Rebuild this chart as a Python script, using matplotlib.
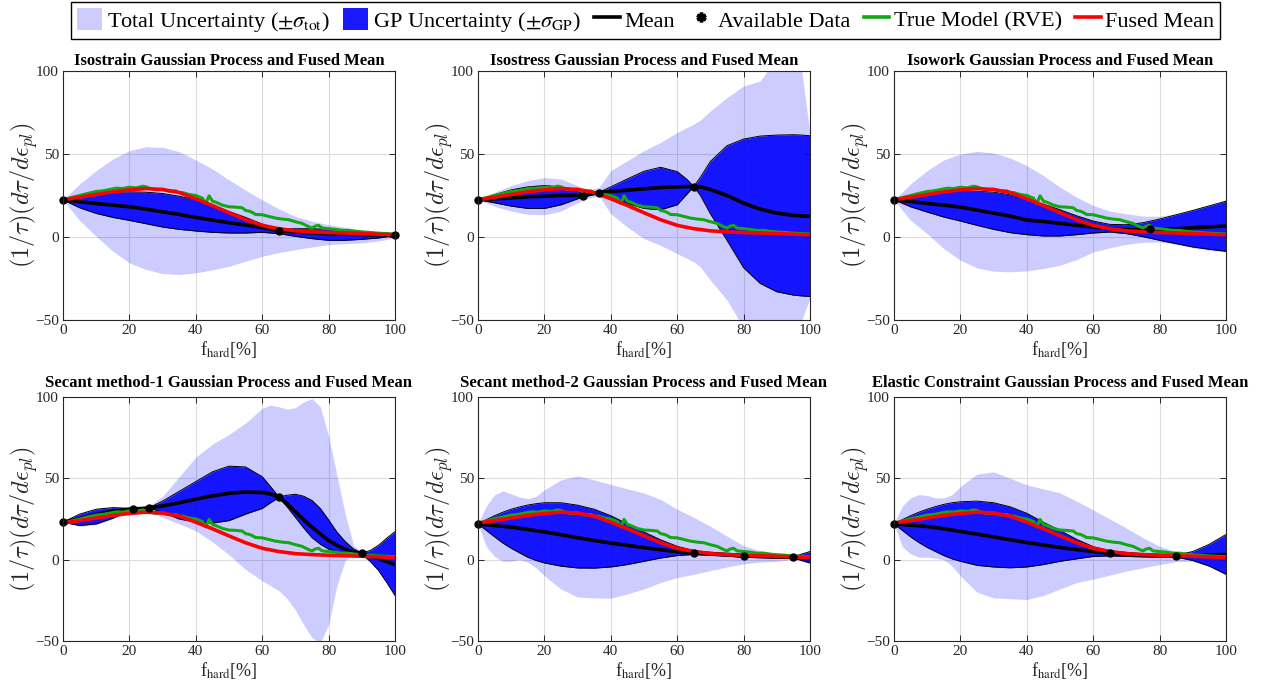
import numpy as np
import matplotlib.pyplot as plt
from matplotlib.patches import Patch
from matplotlib.lines import Line2D

plt.rcParams['font.family'] = ['Liberation Serif', 'DejaVu Serif']
plt.rcParams['mathtext.fontset'] = 'stix'

# ---- shared curves: RVE reference and fused mean ----
true_x = [0, 2, 4, 6, 8, 10, 12, 14, 16, 18, 20, 22, 24, 25, 26, 28, 30, 32, 34, 35,
          36, 38, 40, 42, 43, 44, 45, 46, 48, 50, 52, 54, 55, 56, 57, 58, 60, 62, 64, 66,
          68, 70, 72, 74, 75, 76, 77, 78, 80, 82, 84, 86, 88, 90, 92, 94, 96, 98, 100]
true_y = [22.5, 23.5, 24.5, 25.5, 26.5, 27.4, 27.8, 28.6, 29.4, 29.2, 30.0, 29.6, 30.6, 30.2,
          29.4, 28.4, 28.8, 27.6, 27.8, 26.6, 26.8, 25.6, 25.0, 23.4, 20.2, 24.8, 21.6, 21.0,
          19.2, 18.2, 18.0, 17.6, 16.0, 15.6, 14.8, 13.6, 13.4, 12.4, 11.4, 10.8, 10.4, 9.2,
          8.2, 6.2, 5.4, 6.6, 7.0, 5.4, 5.0, 4.6, 4.0, 4.0, 3.4, 3.0, 2.8, 2.4, 2.2, 2.0, 1.8]

fused_x = [0, 5, 10, 15, 20, 25, 30, 35, 40, 45, 50, 55, 60, 65, 70, 75, 80, 85, 90, 95, 100]
fused_y = [22.4, 24.0, 25.6, 27.2, 28.4, 29.2, 28.6, 26.8, 23.0, 19.0, 14.6, 10.4, 7.0, 5.0,
           3.7, 3.1, 2.7, 2.4, 2.1, 1.7, 1.3]

# ---- Isostrain ----
isostrain_x = [0, 5, 10, 15, 20, 25, 30, 35, 40, 45, 50, 55, 60, 65, 70, 75, 80, 85, 90, 95, 100]
isostrain_mean = [22.4, 21.2, 20.2, 19.2, 18.2, 16.8, 15.2, 13.6, 11.8, 10.2, 8.6, 7.2, 5.8,
                  3.8, 3.0, 2.4, 2.0, 1.7, 1.5, 1.3, 1.2]
isostrain_gp_hi = [22.4, 25.0, 26.4, 27.0, 27.2, 27.0, 26.2, 24.6, 22.4, 19.2, 15.4, 11.8, 7.8,
                   4.6, 5.0, 5.0, 4.6, 4.0, 3.4, 2.6, 1.6]
isostrain_gp_lo = [22.4, 17.6, 14.2, 11.8, 10.0, 8.0, 6.0, 4.6, 3.6, 2.8, 2.4, 2.4, 2.8,
                   2.0, 0.4, -1.0, -2.0, -2.0, -1.4, -0.6, 0.8]
isostrain_tot_hi = [22.4, 32.0, 40.0, 47.0, 52.0, 54.4, 54.0, 51.4, 46.4, 41.0, 34.4, 28.2, 22.4,
                    17.0, 12.4, 9.5, 7.4, 5.8, 4.4, 3.4, 2.4]
isostrain_tot_lo = [22.4, 10.0, 0.4, -8.5, -15.6, -19.6, -22.0, -22.6, -21.6, -19.8, -17.6, -14.6,
                    -11.6, -9.4, -7.6, -6.0, -4.6, -4.0, -3.6, -2.4, -0.6]
isostrain_data_x = [0, 65, 100]
isostrain_data_y = [22.4, 3.8, 1.2]

# ---- Isostress ----
isostress_x = [0, 5, 10, 15, 20, 25, 30, 32, 34, 36.5, 40, 45, 50, 55, 60, 63, 65, 67, 70, 75,
               80, 85, 90, 95, 97.5, 100]
isostress_mean = [22.4, 23.0, 23.6, 24.2, 24.6, 25.0, 25.0, 25.0, 25.8, 26.8, 27.4, 28.2, 29.0,
                  29.8, 30.2, 30.4, 30.4, 30.2, 28.6, 25.0, 20.4, 16.8, 14.4, 13.0, 12.7, 12.4]
isostress_gp_hi = [22.4, 25.5, 28.4, 30.2, 31.0, 30.2, 27.4, 25.8, 26.8, 27.0, 30.2, 35.0, 39.6,
                   42.0, 39.4, 34.6, 30.4, 36.0, 45.5, 55.0, 59.0, 60.8, 61.4, 61.6, 61.4, 61.0]
isostress_gp_lo = [22.4, 20.6, 18.6, 17.2, 17.2, 19.4, 23.0, 24.4, 25.2, 26.6, 24.4, 20.2, 17.2,
                   16.4, 19.4, 26.0, 30.4, 25.0, 14.0, -2.0, -18.5, -28.0, -33.0, -35.0, -35.5, -35.8]
isostress_tot_hi = [22.4, 27.0, 31.0, 34.0, 35.8, 35.0, 31.0, 29.5, 28.5, 30.0, 40.0, 46.0, 52.0,
                    57.0, 63.0, 66.0, 68.0, 70.5, 76.0, 84.0, 91.0, 94.0, 108.0, 112.0, 100.0, 62.0]
isostress_tot_lo = [22.4, 18.5, 15.6, 13.6, 13.4, 15.6, 20.6, 22.5, 23.8, 24.6, 14.0, 6.0, -1.0,
                    -5.0, -10.0, -13.0, -15.0, -18.0, -26.0, -38.0, -55.0, -65.0, -70.0, -65.0,
                    -50.0, -37.0]
isostress_data_x = [0, 31.5, 36.5, 65]
isostress_data_y = [22.4, 25.0, 26.8, 30.4]

# ---- Isowork ----
isowork_x = [0, 5, 10, 15, 20, 25, 30, 35, 40, 45, 50, 55, 60, 65, 70, 75, 80, 85, 90, 95, 100]
isowork_mean = [22.4, 21.4, 20.2, 19.2, 18.0, 16.2, 14.4, 12.6, 10.2, 9.4, 8.2, 7.0, 6.0, 5.0,
                4.4, 4.4, 4.6, 5.0, 5.6, 6.1, 6.6]
isowork_gp_hi = [22.4, 24.6, 26.2, 27.2, 27.6, 27.6, 27.0, 25.4, 22.8, 19.8, 16.4, 12.8, 9.6,
                 7.6, 7.4, 8.6, 10.8, 13.4, 16.0, 18.8, 21.6]
isowork_gp_lo = [22.4, 18.2, 15.0, 12.0, 9.6, 7.0, 4.6, 2.6, 1.4, 0.6, 0.6, 1.4, 2.4, 3.0, 2.0,
                 0.2, -2.0, -4.0, -6.0, -7.4, -8.6]
isowork_tot_hi = [22.4, 32.0, 40.0, 46.4, 50.0, 51.6, 50.6, 47.6, 43.0, 37.0, 30.0, 24.0, 19.0,
                  15.6, 14.0, 12.6, 12.5, 14.0, 16.5, 19.0, 22.0]
isowork_tot_lo = [22.4, 10.0, 2.0, -7.0, -14.0, -18.6, -20.6, -21.0, -20.4, -19.0, -17.0, -13.6,
                  -9.0, -6.5, -4.4, -3.2, -3.0, -4.4, -6.5, -8.0, -9.0]
isowork_data_x = [0, 77]
isowork_data_y = [22.4, 4.6]

# ---- Secant method-1 ----
secant1_x = [0, 5, 10, 15, 20, 21, 23.5, 26, 30, 35, 40, 45, 50, 55, 60, 62.5, 65, 67.5, 70,
             72.5, 75, 77.5, 80, 82.5, 85, 87.5, 90, 92.5, 95, 97.5, 100]
secant1_mean = [23.0, 25.2, 27.8, 29.8, 31.0, 31.3, 31.4, 31.9, 33.0, 35.0, 37.2, 39.2, 40.8,
                41.6, 41.3, 40.4, 38.4, 34.5, 29.5, 24.5, 20.0, 15.8, 11.8, 8.8, 6.4, 4.6, 3.8,
                2.2, 0.8, -1.2, -3.0]
secant1_gp_hi = [23.0, 28.0, 31.0, 32.0, 31.6, 31.3, 31.5, 32.0, 36.0, 42.0, 48.0, 54.0, 57.5,
                 57.0, 51.0, 45.0, 38.6, 39.6, 40.2, 39.0, 36.4, 31.5, 24.5, 17.0, 11.2, 6.6, 4.2,
                 5.6, 8.8, 13.2, 17.2]
secant1_gp_lo = [23.0, 21.0, 22.0, 25.5, 30.0, 31.3, 31.3, 31.8, 29.0, 25.0, 23.0, 22.5, 24.0,
                 28.0, 31.5, 35.0, 38.2, 32.5, 26.0, 19.5, 13.5, 9.5, 6.5, 5.0, 4.2, 3.8, 3.4,
                 -1.0, -6.5, -14.0, -22.0]
secant1_tot_hi = [23.0, 28.5, 31.5, 32.2, 31.8, 31.5, 32.0, 33.0, 39.0, 51.0, 63.0, 71.0, 77.0,
                  84.0, 93.0, 95.0, 94.0, 92.5, 93.5, 97.0, 99.0, 94.0, 76.0, 52.0, 28.0, 9.0,
                  4.4, 6.0, 9.4, 13.5, 17.5]
secant1_tot_lo = [23.0, 20.5, 21.5, 25.0, 29.5, 30.5, 30.5, 30.0, 26.0, 22.0, 17.7, 11.0, 3.0,
                  -6.0, -13.0, -16.0, -19.0, -24.0, -31.0, -40.0, -48.0, -51.0, -40.0, -16.0,
                  -0.5, 3.0, 3.2, -1.5, -7.0, -14.5, -22.5]
secant1_data_x = [0, 21, 26, 65, 90]
secant1_data_y = [23.0, 31.3, 31.9, 38.4, 3.8]

# ---- Secant method-2 ----
secant2_x = [0, 2.5, 5, 7.5, 10, 12.5, 15, 17.5, 20, 25, 30, 35, 40, 45, 50, 55, 60, 65, 70,
             75, 80, 85, 90, 95, 100]
secant2_mean = [22.0, 21.5, 21.0, 20.5, 20.0, 19.3, 18.6, 17.8, 17.1, 15.3, 13.5, 11.8, 10.2,
                8.8, 7.4, 6.1, 4.9, 4.0, 3.4, 2.9, 2.4, 2.0, 1.7, 1.4, 1.2]
secant2_gp_hi = [22.0, 24.6, 27.0, 29.2, 31.0, 32.4, 33.6, 34.4, 35.0, 35.0, 33.5, 31.0, 27.0,
                 22.0, 17.0, 12.2, 8.2, 5.6, 4.6, 4.0, 3.4, 3.0, 2.6, 1.8, 5.0]
secant2_gp_lo = [22.0, 18.0, 14.0, 10.2, 7.0, 4.2, 1.5, -0.5, -2.0, -4.0, -5.1, -5.2, -4.5,
                 -3.0, -1.0, 1.0, 2.5, 3.2, 2.8, 2.2, 1.4, 1.2, 1.0, 1.0, -2.0]
secant2_tot_hi = [22.0, 33.0, 40.0, 42.2, 40.5, 38.5, 37.5, 39.0, 43.0, 49.0, 51.5, 49.0, 46.3,
                  43.5, 41.0, 37.0, 31.0, 26.0, 20.5, 14.5, 8.6, 5.5, 4.0, 3.0, 5.5]
secant2_tot_lo = [22.0, 8.0, 2.0, -1.0, -1.0, 0.0, -1.5, -5.0, -10.0, -18.0, -23.0, -23.5,
                  -23.7, -21.0, -18.0, -14.0, -11.0, -9.0, -6.7, -4.5, -2.6, -1.5, -1.0, 0.2, -2.5]
secant2_data_x = [0, 65, 80, 95]
secant2_data_y = [22.0, 4.0, 2.4, 1.4]

# ---- Elastic Constraint ----
elastic_x = [0, 2.5, 5, 7.5, 10, 12.5, 15, 17.5, 20, 25, 30, 35, 40, 45, 50, 55, 60, 65, 70,
             75, 80, 85, 90, 95, 100]
elastic_mean = [22.0, 21.6, 21.2, 20.8, 20.4, 19.7, 19.0, 18.2, 17.4, 15.7, 14.0, 12.2, 10.5,
                9.0, 7.5, 6.2, 5.0, 4.0, 3.3, 2.8, 2.5, 2.3, 2.5, 2.8, 3.2]
elastic_gp_hi = [22.0, 24.6, 27.0, 29.2, 31.0, 32.6, 34.0, 35.0, 35.6, 36.0, 35.0, 32.5, 28.5,
                 23.0, 18.0, 12.5, 8.0, 5.5, 4.5, 3.7, 3.2, 2.8, 5.0, 9.5, 15.5]
elastic_gp_lo = [22.0, 18.0, 14.0, 10.5, 7.5, 5.0, 2.5, 0.5, -1.0, -3.5, -4.5, -5.0, -4.5,
                 -3.0, -1.0, 0.5, 2.0, 2.3, 2.0, 1.7, 1.5, 1.6, -0.5, -4.0, -9.0]
elastic_tot_hi = [22.0, 33.0, 38.0, 40.0, 39.5, 38.0, 38.0, 40.0, 45.0, 52.6, 54.0, 50.0, 46.0,
                  43.5, 41.0, 36.0, 30.6, 25.0, 19.4, 13.5, 8.2, 5.0, 5.2, 9.7, 15.7]
elastic_tot_lo = [22.0, 8.0, 3.5, 1.5, 1.5, 1.0, 0.0, -4.0, -10.0, -20.0, -23.5, -24.0, -24.5,
                  -22.0, -18.0, -14.0, -12.0, -9.5, -7.0, -5.0, -3.0, -1.2, -1.0, -4.2, -9.3]
elastic_data_x = [0, 65, 85]
elastic_data_y = [22.0, 4.0, 2.3]

panels = [
    ('Isostrain', isostrain_x, isostrain_mean, isostrain_gp_hi, isostrain_gp_lo,
     isostrain_tot_hi, isostrain_tot_lo, isostrain_data_x, isostrain_data_y),
    ('Isostress', isostress_x, isostress_mean, isostress_gp_hi, isostress_gp_lo,
     isostress_tot_hi, isostress_tot_lo, isostress_data_x, isostress_data_y),
    ('Isowork', isowork_x, isowork_mean, isowork_gp_hi, isowork_gp_lo,
     isowork_tot_hi, isowork_tot_lo, isowork_data_x, isowork_data_y),
    ('Secant method-1', secant1_x, secant1_mean, secant1_gp_hi, secant1_gp_lo,
     secant1_tot_hi, secant1_tot_lo, secant1_data_x, secant1_data_y),
    ('Secant method-2', secant2_x, secant2_mean, secant2_gp_hi, secant2_gp_lo,
     secant2_tot_hi, secant2_tot_lo, secant2_data_x, secant2_data_y),
    ('Elastic Constraint', elastic_x, elastic_mean, elastic_gp_hi, elastic_gp_lo,
     elastic_tot_hi, elastic_tot_lo, elastic_data_x, elastic_data_y),
]

GREEN = '#12A812'
AXC = '#262626'

fig = plt.figure(figsize=(12.67, 6.92), dpi=100)
W, H = 1267, 692
lefts = [63, 478, 894]
rows = [(71, 320), (397, 641)]

for i, (name, x, mean, gp_hi, gp_lo, tot_hi, tot_lo, dx, dy) in enumerate(panels):
    top, bot = rows[i // 3]
    left = lefts[i % 3]
    ax = fig.add_axes([left / W, 1 - bot / H, 332 / W, (bot - top) / H])

    ax.fill_between(x, tot_lo, tot_hi, color='blue', alpha=0.2, linewidth=0)
    ax.fill_between(x, gp_lo, gp_hi, color='blue', alpha=0.9, linewidth=0)
    ax.plot(x, gp_hi, color='k', lw=0.7)
    ax.plot(x, gp_lo, color='k', lw=0.7)
    ax.plot(x, mean, color='k', lw=2.6)
    ax.plot(true_x, true_y, color=GREEN, lw=2.2)
    ax.plot(fused_x, fused_y, color='red', lw=2.6)
    ax.plot(dx, dy, 'o', color='k', ms=5, clip_on=False)

    ax.set_xlim(0, 100)
    ax.set_ylim(-50, 100)
    ax.set_xticks([0, 20, 40, 60, 80, 100])
    ax.set_yticks([-50, 0, 50, 100])
    ax.set_axisbelow(True)
    ax.grid(True, color='#dcdcdc', lw=0.8)
    ax.tick_params(direction='in', length=4, width=0.7, colors=AXC, labelsize=11,
                   top=True, right=True, pad=3)
    for s in ax.spines.values():
        s.set_color(AXC)
        s.set_linewidth(0.8)

    ax.set_title(name + ' Gaussian Process and Fused Mean', fontsize=12,
                 fontweight='bold', pad=4 if i < 3 else 7)
    ax.set_xlabel(r'f$_{\mathrm{hard}}$[%]', fontsize=13, color=AXC, labelpad=1)
    ax.set_ylabel(r'$(1/\tau)(d\tau/d\epsilon_{pl})$', fontsize=17.5, color=AXC,
                  math_fontfamily='cm')
    ax.yaxis.set_label_coords(-0.07, 0.5)

handles = [
    Patch(facecolor='blue', alpha=0.2, edgecolor='none'),
    Patch(facecolor='blue', alpha=0.9, edgecolor='none'),
    Line2D([], [], color='k', lw=2.6),
    Line2D([], [], color='k', marker=(6, 2, 0), ls='none', ms=7, mew=2.5),
    Line2D([], [], color=GREEN, lw=2.6),
    Line2D([], [], color='red', lw=2.6),
]
labels = [r'Total Uncertainty ($\pm\sigma_{\mathrm{tot}}$)',
          r'GP Uncertainty ($\pm\sigma_{\mathrm{GP}}$)',
          'Mean', 'Available Data', 'True Model (RVE)', 'Fused Mean']
leg = fig.legend(handles, labels, loc='upper center', bbox_to_anchor=(0.5095, 0.997),
                 ncol=6, fontsize=16, frameon=True, fancybox=False, framealpha=1,
                 edgecolor='k', handlelength=1.15, handleheight=1.2, handletextpad=0.2,
                 columnspacing=0.6, borderpad=0.25, borderaxespad=0)
leg.get_frame().set_linewidth(1.0)

fig.savefig('out.png', dpi=100)
